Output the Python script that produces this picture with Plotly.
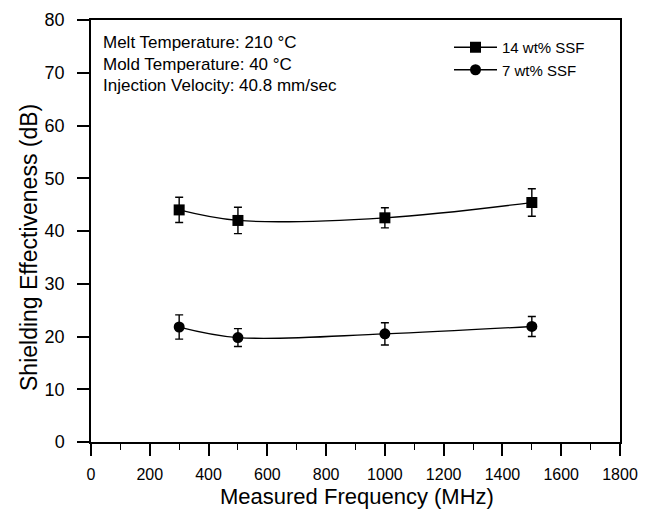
import plotly.graph_objects as go

freq = [300, 500, 1000, 1500]
se_14 = [44.0, 42.0, 42.5, 45.4]
err_14 = [2.4, 2.5, 1.9, 2.6]
se_7 = [21.8, 19.8, 20.5, 21.9]
err_7 = [2.3, 1.7, 2.1, 1.9]
x_ticks = [0, 200, 400, 600, 800, 1000, 1200, 1400, 1600, 1800]
y_ticks = [0, 10, 20, 30, 40, 50, 60, 70, 80]
notes = ["Melt Temperature: 210 °C", "Mold Temperature: 40 °C", "Injection Velocity: 40.8 mm/sec"]
x_title = "Measured Frequency (MHz)"
y_title = "Shielding Effectiveness (dB)"

FONT = "Liberation Sans, Arial, sans-serif"
L, R, T, B = 91, 25, 20, 68
W, H = 645, 510
PW, PH = W - L - R, H - T - B

fig = go.Figure()
fig.add_trace(go.Scatter(
    x=freq, y=se_14, name="14 wt% SSF", mode="lines+markers",
    line=dict(color="black", width=1.3, shape="spline", smoothing=1.0),
    marker=dict(symbol="square", size=11, color="black"),
    error_y=dict(type="data", array=err_14, color="black", thickness=1.4, width=4),
))
fig.add_trace(go.Scatter(
    x=freq, y=se_7, name="7 wt% SSF", mode="lines+markers",
    line=dict(color="black", width=1.3, shape="spline", smoothing=1.0),
    marker=dict(symbol="circle", size=11, color="black"),
    error_y=dict(type="data", array=err_7, color="black", thickness=1.4, width=4),
))

note_y = [43, 64.5, 85.5]
for t, yy in zip(notes, note_y):
    fig.add_annotation(
        xref="paper", yref="paper", x=(101 - L) / PW, y=1 - (yy - T) / PH,
        text=t, showarrow=False, xanchor="left", yanchor="middle",
        font=dict(family=FONT, size=17, color="black"),
    )

# axis titles, placed where the reference has them
fig.add_annotation(
    xref="paper", yref="paper", x=(29 - L) / PW, y=1 - (248 - T) / PH,
    text=y_title, textangle=-90, showarrow=False, xanchor="center", yanchor="middle",
    font=dict(family=FONT, size=23, color="black"),
)
fig.add_annotation(
    xref="paper", yref="paper", x=(357 - L) / PW, y=1 - (511 - T) / PH,
    text=x_title, showarrow=False, xanchor="center", yanchor="bottom",
    font=dict(family=FONT, size=22, color="black"),
)

fig.update_layout(
    width=W, height=H,
    margin=dict(l=L, r=R, t=T, b=B, autoexpand=False),
    paper_bgcolor="white", plot_bgcolor="white",
    font=dict(family=FONT, color="black"),
    showlegend=True,
    legend=dict(
        x=(449 - L) / PW, y=1 - (31 - T) / PH, xanchor="left", yanchor="top",
        bgcolor="rgba(0,0,0,0)", font=dict(family=FONT, size=15, color="black"),
        tracegroupgap=0, itemwidth=43,
    ),
    xaxis=dict(
        range=[0, 1800], tickvals=x_ticks, ticktext=[str(v) for v in x_ticks],
        ticks="outside", ticklen=12, tickwidth=1.5, tickcolor="black",
        minor=dict(dtick=100, ticks="outside", ticklen=6, tickwidth=1.2, tickcolor="black"),
        showline=True, linecolor="black", linewidth=1.5, mirror=True,
        showgrid=False, zeroline=False, automargin=False,
        ticklabelstandoff=5,
        tickfont=dict(family=FONT, size=16, color="black"),
    ),
    yaxis=dict(
        range=[0, 80], tickvals=y_ticks, ticktext=[str(v) for v in y_ticks],
        ticks="outside", ticklen=12, tickwidth=1.5, tickcolor="black",
        showline=True, linecolor="black", linewidth=1.5, mirror=True,
        showgrid=False, zeroline=False, automargin=False,
        ticklabelstandoff=9,
        tickfont=dict(family=FONT, size=18, color="black"),
    ),
)

fig.write_html("out.html", config={"displayModeBar": False},
               post_script="document.body.style.margin='0';")
